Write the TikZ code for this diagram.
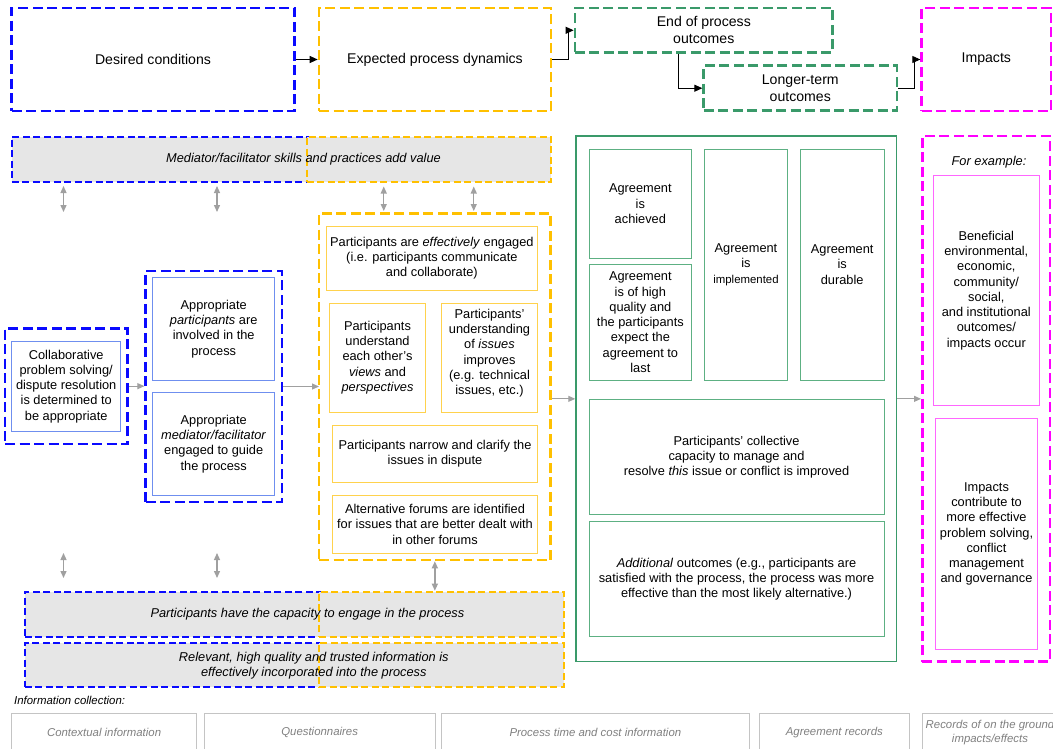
\documentclass[tikz,border=0pt]{standalone}
\usepackage{fontspec}
\setmainfont{Liberation Sans}
\usepackage{tikz}
\usetikzlibrary{arrows.meta}
\usepackage{xcolor}

\definecolor{dblue}{HTML}{0A0AFF}
\definecolor{lblue}{HTML}{6F8FEF}
\definecolor{dyellow}{HTML}{FFC000}
\definecolor{lyellow}{HTML}{FFD24D}
\definecolor{dgreen}{HTML}{3A9A6A}
\definecolor{lgreen}{HTML}{5DB083}
\definecolor{dmagenta}{HTML}{FF00FF}
\definecolor{lmagenta}{HTML}{FF66FF}
\definecolor{rowgray}{HTML}{E6E6E6}
\definecolor{arrowgray}{HTML}{A0A0A0}
\definecolor{infogray}{HTML}{C4C4C4}
\definecolor{infotext}{HTML}{808080}

\newcommand\headfont{\fontsize{14.1}{17}\selectfont}
\newcommand\bodyfont{\fontsize{12.8}{15.3}\selectfont}
\newcommand\rowfont{\fontsize{12.8}{15}\selectfont\itshape}
\newcommand\infofont{\fontsize{11.4}{14}\selectfont\itshape}
\newcommand\smallbody{\fontsize{11.4}{15.3}\selectfont}

\begin{document}
\begin{tikzpicture}[x=1pt,y=-1pt,
    headbox/.style={draw=#1, line width=2.6pt, dash pattern=on 10pt off 4.5pt, align=center, inner sep=0pt, font=\headfont},
    outerbox/.style={draw=#1, line width=2.6pt, dash pattern=on 10pt off 4.5pt, inner sep=0pt},
    rowbox/.style={draw=#1, fill=rowgray, line width=2pt, dash pattern=on 7pt off 3.5pt, inner sep=0pt},
    rowtext/.style={align=center, font=\rowfont, inner sep=0pt},
    innerbox/.style={draw=#1, line width=0.9pt, align=center, inner sep=0pt, font=\bodyfont},
    infobox/.style={draw=infogray, line width=0.9pt, text=infotext, align=center, inner sep=0pt, font=\infofont},
    blackarrow/.style={-{Triangle[length=8pt,width=7pt]}, line width=0.9pt},
    grayarrow/.style={-{Triangle[length=7pt,width=6pt]}, draw=arrowgray, line width=1.1pt},
    dblarrow/.style={{Triangle[length=7pt,width=6pt]}-{Triangle[length=7pt,width=6pt]}, draw=arrowgray, line width=1.3pt}]

\useasboundingbox (0,0) rectangle (1053,748);
\clip (0,0) rectangle (1053,748);
\fill[white] (0,0) rectangle (1053,748);

% Top row
\node[headbox=dblue, minimum width=283pt, minimum height=103pt] (desired) at (153,59.5) {Desired conditions};
\node[headbox=dyellow, minimum width=232pt, minimum height=103pt] (expected) at (435,59.5) {Expected process dynamics};
\node[headbox=dgreen, minimum width=257.7pt, minimum height=44.7pt] (endproc) at (703.8,30.3) {End of process\\outcomes};
\node[headbox=dgreen, minimum width=193.3pt, minimum height=45pt] (longer) at (800.3,88.2) {Longer-term\\outcomes};
\node[headbox=dmagenta, minimum width=129.3pt, minimum height=103pt] (impacts) at (986.3,59.5) {Impacts};

\draw[blackarrow] (desired.east) -- (expected.west);
\draw[blackarrow] (expected.east) -- ++(15.7,0) |- (endproc.west);
\draw[blackarrow] ([xshift=-25.1pt]endproc.south) |- (longer.west);
\draw[blackarrow] (longer.east) -- ++(15.7,0) |- (impacts.west);

% Mediator row
\node[rowbox=dblue, minimum width=301.5pt, minimum height=45pt] (medblue) at (162.25,159) {};
\node[rowbox=dyellow, minimum width=244.5pt, minimum height=45pt] (medyellow) at (428.75,159) {};
\node[rowtext] (medtext) at (303.5,159) {Mediator/facilitator skills and practices add value};

\foreach \x in {63.5,217}
    \draw[dblarrow] (\x,186) -- (\x,212);
\draw[dblarrow] ([xshift=-45pt,yshift=-4pt]medyellow.south) -- ([xshift=-45pt]medyellow.south |- 0,211);
\draw[dblarrow] ([xshift=45pt,yshift=-4pt]medyellow.south) -- ([xshift=45pt]medyellow.south |- 0,211);

% Desired conditions
\node[outerbox=dblue, minimum width=122.7pt, minimum height=115.7pt] (collab) at (66.35,386.15) {};
\node[innerbox=lblue, minimum width=109pt, minimum height=89.3pt] (collabin) at (66.2,386.35)
    {Collaborative\\problem solving/\\dispute resolution\\is determined to\\be appropriate};

\node[outerbox=dblue, minimum width=136.3pt, minimum height=231pt] (approp) at (213.85,386.5) {};
\node[innerbox=lblue, minimum width=122pt, minimum height=102.3pt] (participants) at (213.7,328.85)
    {Appropriate\\\textit{participants} are\\involved in the\\process};
\node[innerbox=lblue, minimum width=122pt, minimum height=103pt] (mediator) at (213.7,443.8)
    {Appropriate\\\textit{mediator/facilitator}\\engaged to guide\\the process};

\draw[grayarrow] (collab.east) -- (collab.east -| approp.west);
\draw[grayarrow] (approp.east) -- (approp.east -| 319,0);

% Expected process dynamics
\node[outerbox=dyellow, minimum width=231.7pt, minimum height=346.7pt] (mid) at (434.85,386.65) {};
\node[innerbox=lyellow, minimum width=211.7pt, minimum height=64.3pt] (engaged) at (431.85,258.15)
    {Participants are \textit{effectively} engaged\\(i.e. participants communicate\\and collaborate)};
\node[innerbox=lyellow, minimum width=96.4pt, minimum height=109.3pt] (views) at (377.5,357.65)
    {Participants\\understand\\each other’s\\\textit{views} and\\\textit{perspectives}};
\node[innerbox=lyellow, minimum width=96.4pt, minimum height=109.3pt] (issues) at (489.5,357.65)
    {Participants’\\understanding\\of \textit{issues}\\improves\\(e.g. technical\\issues, etc.)\\[-4pt]};
\node[innerbox=lyellow, minimum width=205.4pt, minimum height=57.3pt] (narrow) at (435,453.65)
    {Participants narrow and clarify the\\issues in dispute};
\node[innerbox=lyellow, minimum width=205.4pt, minimum height=58pt] (forums) at (435,524.3)
    {Alternative forums are identified\\for issues that are better dealt with\\in other forums};

% Lower rows
\node[rowbox=dblue, minimum width=300pt, minimum height=45pt] (capblue) at (174.8,614.2) {};
\node[rowbox=dyellow, minimum width=244.2pt, minimum height=45pt] (capyellow) at (441.4,614.2) {};
\node[rowtext] (captext) at (307.4,614.2) {Participants have the capacity to engage in the process};

\node[rowbox=dblue, minimum width=300pt, minimum height=44.6pt] (infoblue) at (174.8,665) {};
\node[rowbox=dyellow, minimum width=244.2pt, minimum height=44.6pt] (infoyellow) at (441.4,665) {};
\node[rowtext] (infotext) at (313.8,665.2) {Relevant, high quality and trusted information is\\effectively incorporated into the process};

\foreach \x in {63.5,217}
    \draw[dblarrow] (\x,553) -- (\x,578);
\draw[dblarrow] (mid.south) -- (mid.south |- capyellow.north);

% End of process outcomes
\node[draw=dgreen, line width=1.5pt, inner sep=0pt, minimum width=320.7pt, minimum height=525.7pt] (green) at (736.35,398.85) {};
\node[innerbox=lgreen, minimum width=102.7pt, minimum height=109pt] (achieved) at (640.35,203.8)
    {Agreement\\is\\achieved};
\node[innerbox=lgreen, minimum width=102.7pt, minimum height=115.3pt] (quality) at (640.35,322.35)
    {Agreement\\is of high\\quality and\\the participants\\expect the\\agreement to\\last};
\node[innerbox=lgreen, minimum width=83.4pt, minimum height=230.7pt] (implemented) at (746,264.65)
    {Agreement\\is\\{\smallbody implemented}};
\node[innerbox=lgreen, minimum width=83.7pt, minimum height=230.7pt] (durable) at (842.15,264.65)
    {Agreement\\is\\durable};
\node[innerbox=lgreen, minimum width=295pt, minimum height=115.4pt] (collective) at (736.5,457)
    {Participants’ collective\\capacity to manage and\\resolve \textit{this} issue or conflict is improved};
\node[innerbox=lgreen, minimum width=295pt, minimum height=115.4pt] (additional) at (736.5,579)
    {\textit{Additional} outcomes (e.g., participants are\\satisfied with the process, the process was more\\effective than the most likely alternative.)};

\draw[grayarrow] (mid.east |- green.west) -- (green.west);

% Impacts
\node[outerbox=dmagenta, minimum width=127.7pt, minimum height=525.7pt] (pink) at (986.15,398.85) {};
\node[font=\bodyfont\itshape, inner sep=0pt] (example) at (989,161.7) {For example:};
\node[innerbox=lmagenta, minimum width=106pt, minimum height=230.7pt] (beneficial) at (986.3,290.35)
    {Beneficial\\environmental,\\economic,\\community/\\social,\\and institutional\\outcomes/\\impacts occur};
\node[innerbox=lmagenta, minimum width=102.4pt, minimum height=230.6pt] (contribute) at (986.5,534)
    {Impacts\\contribute to\\more effective\\problem solving,\\conflict\\management\\and governance};

\draw[grayarrow] (green.east) -- (pink.west);

% Information collection
\node[anchor=west, font=\infofont, inner sep=0pt] (infolabel) at (14,700.7) {Information collection:};
\node[infobox, minimum width=184.6pt, minimum height=38pt] (contextual) at (104.1,732.3) {Contextual information};
\node[infobox, minimum width=230.9pt, minimum height=38pt] (questionnaires) at (319.65,732.3) {Questionnaires};
\node[infobox, minimum width=307.9pt, minimum height=38pt] (timecost) at (595.35,732.3) {Process time and cost information};
\node[infobox, minimum width=150.7pt, minimum height=38pt] (records) at (834.35,732.3) {Agreement records};
\node[infobox, minimum width=135.4pt, minimum height=38pt] (ground) at (990,732.3) {Records of on the ground\\impacts/effects};

\end{tikzpicture}
\end{document}
